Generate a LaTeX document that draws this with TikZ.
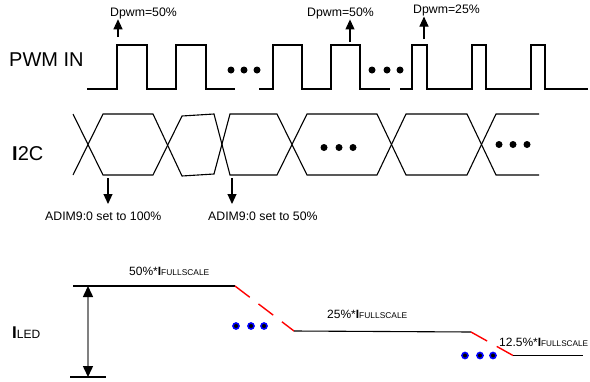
\documentclass[tikz,border=0pt]{standalone}
\usepackage{fontspec}
\setmainfont{Liberation Sans}
\usetikzlibrary{arrows.meta}
\begin{document}
\begin{tikzpicture}[x=1pt,y=-1pt,
  wave/.style={line width=1.1pt, line join=miter},
  lbl/.style={inner sep=0pt, anchor=base west, font=\fontsize{12.3}{14}\selectfont},
  big/.style={inner sep=0pt, anchor=base west, font=\fontsize{20}{24}\selectfont},
  upar/.style={line width=1.1pt, -{Triangle[width=9pt,length=10pt]}},
  blackdot/.style={circle, fill=black, inner sep=0pt, minimum size=7pt},
  bluedot/.style={circle, fill=black, draw=blue, line width=1.6pt, inner sep=0pt, minimum size=6pt},
  reddash/.style={red, line width=1.4pt, dash pattern=on 18.5pt off 11pt},
  ledline/.style={line width=1.1pt},
]
\useasboundingbox (0,0) rectangle (590,381);

% ---------------- PWM IN ----------------
\node[big] (pwm) at (9,66) {PWM IN};
\draw[wave] (87,89) -- (117,89) -- (117,45) -- (147,45) -- (147,89) -- (176,89)
  -- (176,45) -- (206,45) -- (206,89) -- (235,89);
\draw[wave] (259,89) -- (273,89) -- (273,45) -- (302,45) -- (302,89) -- (331,89)
  -- (331,45) -- (360,45) -- (360,89) -- (390,89);
\draw[wave] (400,89) -- (412,89) -- (412,45) -- (427,45) -- (427,89) -- (472,89)
  -- (472,45) -- (486,45) -- (486,89) -- (531,89) -- (531,45) -- (545,45)
  -- (545,89) -- (588,89);
\node[blackdot] (pd1) at (231,70) {};
\node[blackdot] (pd2) at (244,70) {};
\node[blackdot] (pd3) at (257,70) {};
\node[blackdot] (pd4) at (372,70) {};
\node[blackdot] (pd5) at (387,70) {};
\node[blackdot] (pd6) at (400,70) {};

\node[lbl] (dp1) at (110,16.5) {Dpwm=50\%};
\node[lbl] (dp2) at (307,16.7) {Dpwm=50\%};
\node[lbl] (dp3) at (413,13.8) {Dpwm=25\%};
\coordinate (dp1s) at (118,37);
\coordinate (dp2s) at (350,42);
\coordinate (dp3s) at (424,39);
\draw[upar] (dp1s) -- (dp1s |- dp1.south);
\draw[upar] (dp2s) -- (dp2s |- dp2.south);
\draw[upar] (dp3s) -- (dp3s |- dp3.south);

% ---------------- I2C ----------------
\node[big] (i2c) at (12,160) {\textbf{I}2C};
\draw[wave] (73,175) -- (103,114) -- (153,114) -- (182,176) -- (214,174) -- (230,114)
  -- (277,114) -- (307,175) -- (377,175) -- (406,114) -- (467,114) -- (496,175) -- (539,175);
\draw[wave] (73,114) -- (103,175) -- (153,175) -- (182,116) -- (214,114) -- (230,175)
  -- (277,175) -- (307,114) -- (377,114) -- (406,175) -- (467,175) -- (496,114) -- (539,114);
\node[blackdot] (id1) at (324,147.5) {};
\node[blackdot] (id2) at (339,147.5) {};
\node[blackdot] (id3) at (353,147.5) {};
\node[blackdot] (id4) at (499,144.5) {};
\node[blackdot] (id5) at (513,144.5) {};
\node[blackdot] (id6) at (527,144.5) {};

\node[lbl] (ad1) at (45,220) {ADIM9:0 set to 100\%};
\node[lbl] (ad2) at (208,220) {ADIM9:0 set to 50\%};
\coordinate (ad1s) at (108,178);
\coordinate (ad1e) at (108,204);
\coordinate (ad2s) at (232,178);
\coordinate (ad2e) at (232,204);
\draw[upar] (ad1s) -- (ad1e);
\draw[upar] (ad2s) -- (ad2e);

% ---------------- I LED ----------------
\node[inner sep=0pt, anchor=base west] (iled) at (12,338)
  {{\fontsize{17}{20}\selectfont\bfseries I}{\fontsize{12}{14}\selectfont LED}};
\coordinate (l0) at (73,286);
\coordinate (l1) at (235,286);
\coordinate (l2) at (294,331);
\coordinate (l3) at (471,332);
\coordinate (l4) at (513,355.5);
\coordinate (l5) at (583,355.5);
\coordinate (b0) at (70,377);
\coordinate (b1) at (106,377);
\coordinate (at) at (88,286);
\coordinate (ab) at (88,377);
\draw[ledline] (l0) -- (l1);
\draw[reddash] (l1) -- (l2);
\draw[ledline] (l2) -- (l3);
\draw[reddash] (l3) -- (l4);
\draw[ledline] (l4) -- (l5);
\draw[ledline] (b0) -- (b1);
\draw[gray, line width=1.5pt,
  {Triangle[width=10pt,length=11pt,color=black]}-{Triangle[width=10pt,length=11pt,color=black]}] (at) -- (ab);

\node[bluedot] (bd1) at (236,326) {};
\node[bluedot] (bd2) at (251,326) {};
\node[bluedot] (bd3) at (264,326) {};
\node[bluedot] (bd4) at (465,355.5) {};
\node[bluedot] (bd5) at (480,355.5) {};
\node[bluedot] (bd6) at (493,355.5) {};

\node[inner sep=0pt, anchor=base west] (f50) at (129,275)
  {{\fontsize{12}{14}\selectfont 50\%*\textbf{I}}{\fontsize{8.4}{10}\selectfont FULLSCALE}};
\node[inner sep=0pt, anchor=base west] (f25) at (327,318)
  {{\fontsize{12}{14}\selectfont 25\%*\textbf{I}}{\fontsize{8.4}{10}\selectfont FULLSCALE}};
\node[inner sep=0pt, anchor=base west] (f12) at (499,346)
  {{\fontsize{12}{14}\selectfont 12.5\%*\textbf{I}}{\fontsize{8.2}{10}\selectfont FULLSCALE}};
\end{tikzpicture}
\end{document}
